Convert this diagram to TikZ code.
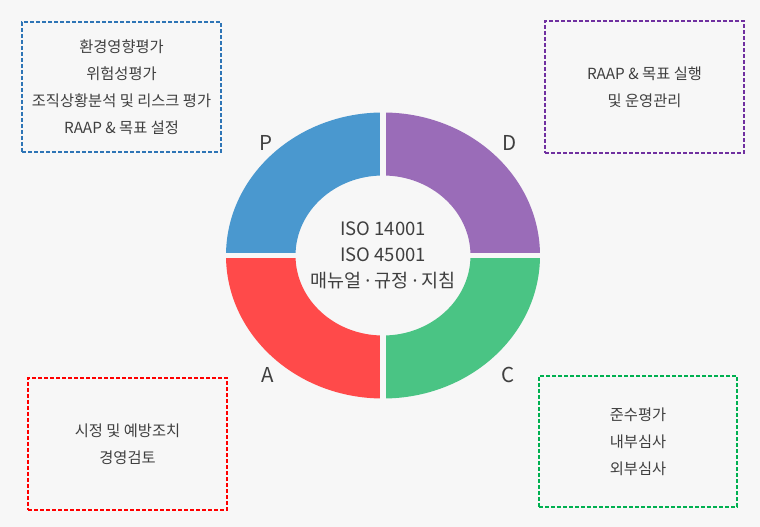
\documentclass[tikz,border=0pt]{standalone}
\usepackage{fontspec}
\setmainfont{Noto Sans CJK KR}
\newfontfamily\dotfont{Noto Sans}
\usepackage{tikz}
\usetikzlibrary{calc}
\definecolor{bgcol}{HTML}{F7F7F7}
\definecolor{txtcol}{HTML}{3F3F3F}
\definecolor{pblue}{HTML}{4A98CF}
\definecolor{dviolet}{HTML}{9A6CB8}
\definecolor{cgreen}{HTML}{4AC484}
\definecolor{ared}{HTML}{FF4A4A}
\definecolor{pline}{HTML}{2E75B6}
\definecolor{dline}{HTML}{7030A0}
\definecolor{cline}{HTML}{00B050}
\definecolor{aline}{HTML}{FF0000}
\newcommand{\middot}{ {\dotfont ·} }

\begin{document}
\begin{tikzpicture}[x=1pt,y=1pt,
    stepbox/.style={draw,line width=1.2pt,dash pattern=on 4pt off 2pt,
      align=center,text=txtcol,font=\fontsize{15.3}{27}\selectfont},
    letter/.style={text=txtcol,font=\fontsize{20.5}{24}\selectfont}]
    \fill[bgcol] (0,0) rectangle (760,527); % background, fixes the page size
    \useasboundingbox (0,0) rectangle (760,527);

    \coordinate (Center) at (383,271.5);
    \def\rx{157}  \def\ry{143}   % outer radii
    \def\irx{87.5}\def\iry{80}   % inner radii

    % the four quarters of the ring
    \foreach \a/\col in {90/pblue,0/dviolet,270/cgreen,180/ared}{
      \fill[\col] ($(Center)+({\rx*cos(\a)},{\ry*sin(\a)})$)
        arc[start angle=\a,end angle=\a+90,x radius=\rx,y radius=\ry]
        -- ($(Center)+({\irx*cos(\a+90)},{\iry*sin(\a+90)})$)
        arc[start angle=\a+90,end angle=\a,x radius=\irx,y radius=\iry]
        -- cycle;
    }
    % gaps between the quarters
    \draw[bgcol,line width=5.6pt] ($(Center)+(-\rx-2,0)$) -- ($(Center)+(\rx+2,0)$);
    \draw[bgcol,line width=5.6pt] ($(Center)+(0,-\ry-2)$) -- ($(Center)+(0,\ry+2)$);

    \node[text=txtcol,align=center,font=\fontsize{18.5}{26}\selectfont] (core) at (Center)
      {ISO 14001\\ISO 45001\\매뉴얼\middot 규정\middot 지침};

    % letters
    \node[letter] (P) at (266,384) {P};
    \node[letter] (D) at (510,384) {D};
    \node[letter] (A) at (268,152) {A};
    \node[letter] (C) at (508,152) {C};

    % boxes
    \node[stepbox,pline,text=txtcol,minimum width=199pt,minimum height=130pt] (plan) at (121.5,440)
      {환경영향평가\\위험성평가\\조직상황분석 및 리스크 평가\\RAAP \& 목표 설정};
    \node[stepbox,dline,text=txtcol,minimum width=199pt,minimum height=132pt] (do) at (644.5,440)
      {RAAP \& 목표 실행\\및 운영관리};
    \node[stepbox,aline,text=txtcol,minimum width=199pt,minimum height=132pt] (act) at (127.5,83)
      {시정 및 예방조치\\경영검토};
    \node[stepbox,cline,text=txtcol,minimum width=198pt,minimum height=131pt] (check) at (638,85.5)
      {준수평가\\내부심사\\외부심사};
\end{tikzpicture}
\end{document}
